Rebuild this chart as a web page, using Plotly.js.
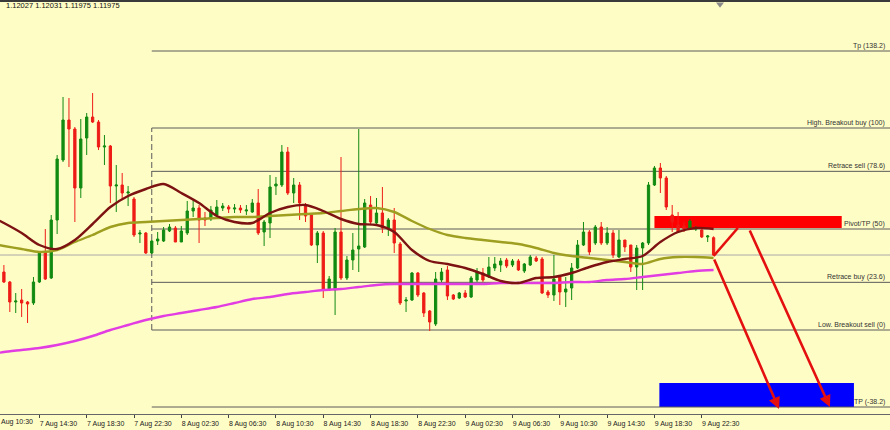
<!DOCTYPE html>
<html><head><meta charset="utf-8">
<script src="https://cdn.plot.ly/plotly-3.0.1.min.js"></script>
<style>html,body{margin:0;padding:0;background:#fffdc6;}#chart{width:890px;height:430px;}</style>
</head><body><div id="chart"></div>
<script>
// EURUSD M30, 7 Aug 11:30 -> 9 Aug 23:30 (2019)
const startTime = '2019-08-07T11:30:00Z';
const stepMinutes = 30;

const open = [1.11924,1.11894,1.11834,1.11840,1.11834,1.11831,1.11894,1.11984,1.11906,1.12080,
1.12260,1.12380,1.12353,1.12176,1.12326,1.12389,1.12374,1.12299,1.12302,1.12182,
1.12185,1.12161,1.12143,1.12038,1.12041,1.11981,1.12017,1.12017,1.12047,1.12056,
1.12014,1.12041,1.12107,1.12116,1.12086,1.12083,1.12095,1.12116,1.12119,1.12113,
1.12116,1.12107,1.12104,1.12131,1.12044,1.12071,1.12182,1.12185,1.12284,1.12161,
1.12185,1.12125,1.12095,1.12005,1.12041,1.11870,1.11870,1.12044,1.11906,1.11960,
1.11993,1.11999,1.12125,1.12071,1.12101,1.12056,1.12080,1.12008,1.11837,1.11840,
1.11921,1.11861,1.11807,1.11768,1.11900,1.11930,1.11855,1.11846,1.11861,1.11849,
1.11900,1.11921,1.11909,1.11936,1.11945,1.11960,1.11945,1.11957,1.11927,1.11945,
1.11966,1.11963,1.11864,1.11855,1.11909,1.11864,1.11876,1.11936,1.12005,1.12044,
1.12011,1.12059,1.12011,1.12041,1.11969,1.12020,1.12005,1.11939,1.11996,1.12011,
1.12185,1.12236,1.12206,1.12095,1.12065,1.12062,1.12056,1.12053,1.12050,1.12029,
1.12027];
const high = [1.11945,1.11897,1.11861,1.11873,1.11837,1.11909,1.11981,1.12053,1.12095,1.12275,
1.12449,1.12446,1.12359,1.12383,1.12401,1.12461,1.12380,1.12335,1.12305,1.12245,
1.12221,1.12182,1.12149,1.12050,1.12044,1.12020,1.12044,1.12059,1.12068,1.12062,
1.12062,1.12137,1.12140,1.12125,1.12104,1.12122,1.12140,1.12131,1.12125,1.12128,
1.12125,1.12125,1.12143,1.12173,1.12080,1.12215,1.12209,1.12305,1.12299,1.12206,
1.12194,1.12131,1.12101,1.12047,1.12047,1.11912,1.12056,1.12269,1.11972,1.12041,
1.12353,1.12143,1.12152,1.12146,1.12179,1.12086,1.12116,1.12014,1.11849,1.11924,
1.11924,1.11864,1.11810,1.11924,1.11936,1.11942,1.11858,1.11864,1.11870,1.11912,
1.11936,1.11936,1.11969,1.11969,1.11966,1.11966,1.11963,1.11963,1.11951,1.11975,
1.11972,1.11969,1.11870,1.11975,1.11912,1.11909,1.11951,1.12020,1.12074,1.12050,
1.12065,1.12074,1.12059,1.12050,1.12050,1.12020,1.12005,1.12005,1.12014,1.12194,
1.12242,1.12251,1.12212,1.12125,1.12104,1.12074,1.12083,1.12062,1.12053,1.12035,
1.12031];
const low = [1.11891,1.11804,1.11801,1.11789,1.11771,1.11825,1.11891,1.11900,1.11903,1.12038,
1.12254,1.12239,1.12074,1.12146,1.12275,1.12371,1.12290,1.12245,1.12131,1.12104,
1.12140,1.12122,1.12029,1.12011,1.11978,1.11978,1.12005,1.12014,1.12044,1.12014,
1.12014,1.12035,1.12089,1.12011,1.12062,1.12077,1.12089,1.12107,1.12101,1.12101,
1.12101,1.12095,1.12101,1.12035,1.12002,1.12026,1.12155,1.12179,1.12155,1.12131,
1.12080,1.12074,1.12002,1.11951,1.11846,1.11867,1.11795,1.11900,1.11900,1.11930,
1.11924,1.11996,1.12068,1.12068,1.12041,1.12032,1.11981,1.11825,1.11804,1.11837,
1.11849,1.11789,1.11747,1.11762,1.11894,1.11840,1.11840,1.11843,1.11846,1.11846,
1.11894,1.11894,1.11906,1.11927,1.11924,1.11936,1.11939,1.11927,1.11921,1.11942,
1.11954,1.11858,1.11846,1.11837,1.11825,1.11819,1.11840,1.11933,1.12002,1.11975,
1.12005,1.12005,1.12005,1.11966,1.11966,1.11984,1.11924,1.11870,1.11870,1.12005,
1.12182,1.12161,1.12110,1.12044,1.12041,1.12044,1.12050,1.12047,1.12026,1.12014,
1.11975];
const close = [1.11894,1.11834,1.11837,1.11831,1.11828,1.11894,1.11981,1.11903,1.12080,1.12263,
1.12380,1.12353,1.12176,1.12323,1.12389,1.12374,1.12299,1.12302,1.12182,1.12185,
1.12161,1.12164,1.12035,1.12041,1.11981,1.12017,1.12023,1.12050,1.12059,1.12014,
1.12047,1.12107,1.12116,1.12080,1.12080,1.12110,1.12119,1.12122,1.12113,1.12116,
1.12110,1.12110,1.12131,1.12041,1.12074,1.12179,1.12188,1.12284,1.12161,1.12185,
1.12131,1.12092,1.12005,1.12041,1.11870,1.11903,1.12044,1.11906,1.11960,1.11990,
1.12002,1.12131,1.12074,1.12101,1.12056,1.12080,1.12011,1.11831,1.11840,1.11921,
1.11855,1.11801,1.11774,1.11903,1.11924,1.11852,1.11843,1.11861,1.11849,1.11906,
1.11924,1.11900,1.11939,1.11948,1.11957,1.11942,1.11957,1.11930,1.11948,1.11969,
1.11957,1.11861,1.11855,1.11903,1.11864,1.11873,1.11936,1.12005,1.12044,1.11984,
1.12059,1.12011,1.12041,1.11975,1.12020,1.11999,1.11939,1.11996,1.12011,1.12185,
1.12236,1.12206,1.12119,1.12074,1.12044,1.12053,1.12077,1.12056,1.12029,1.12032,
1.11975];

// moving averages, read at these candle indices
const maIndex = [-1,0,3,6,9,12,15,18,21,24,27,30,33,36,39,42,45,48,51,54,57,60,63,66,69,72,75,78,81,84,87,90,93,96,99,102,105,108,111,114,117,120];
const maFast = [1.12080,1.12071,1.12041,1.12005,1.11993,1.12020,1.12068,1.12119,1.12152,1.12173,1.12188,1.12161,1.12131,1.12092,1.12074,1.12071,1.12101,1.12119,1.12125,1.12107,1.12083,1.12068,1.12065,1.12044,1.11990,1.11957,1.11948,1.11936,1.11918,1.11897,1.11891,1.11906,1.11909,1.11921,1.11939,1.11954,1.11963,1.11972,1.12014,1.12044,1.12056,1.12053];
const maMid = [1.12005,1.12002,1.11993,1.11984,1.11990,1.12014,1.12035,1.12059,1.12071,1.12074,1.12077,1.12080,1.12083,1.12086,1.12089,1.12089,1.12092,1.12095,1.12098,1.12101,1.12107,1.12113,1.12116,1.12104,1.12077,1.12053,1.12035,1.12026,1.12020,1.12014,1.12008,1.11996,1.11981,1.11972,1.11966,1.11960,1.11954,1.11948,1.11963,1.11969,1.11969,1.11966];
const maSlow = [1.11681,1.11684,1.11690,1.11696,1.11705,1.11717,1.11732,1.11750,1.11765,1.11780,1.11792,1.11801,1.11810,1.11819,1.11831,1.11843,1.11849,1.11858,1.11864,1.11870,1.11873,1.11879,1.11885,1.11888,1.11888,1.11888,1.11888,1.11888,1.11888,1.11891,1.11891,1.11891,1.11891,1.11894,1.11894,1.11900,1.11903,1.11909,1.11915,1.11921,1.11927,1.11930];

// Fibonacci levels
const fibNames = ['Tp (138.2)','High. Breakout buy (100)','Retrace sell (78.6)','Pivot/TP (50)','Retrace buy (23.6)','Low. Breakout sell (0)','TP (-38.2)'];
const fibPrices = [1.12587,1.12356,1.12226,1.12053,1.11893,1.11750,1.11519];
const fibStart = '2019-08-08 00:00';

// drawn objects
const sellZone = {t0:'2019-08-09 18:30', t1:'2019-08-10 10:20', p0:1.12056, p1:1.12092};
const targetZone = {t0:'2019-08-09 18:55', t1:'2019-08-10 11:22', p0:1.11519, p1:1.11591};
const pathUp = {t0:'2019-08-09 23:30', p0:1.11972, t1:'2019-08-10 01:33', p1:1.12056};
const arrowsDown = [
  {t0:'2019-08-09 23:30', p0:1.11966, t1:'2019-08-10 05:02', p1:1.11513},
  {t0:'2019-08-10 02:30', p0:1.12053, t1:'2019-08-10 09:20', p1:1.11519}
];

const tickTimes = ['2019-08-07 14:30','2019-08-07 18:30','2019-08-07 22:30','2019-08-08 02:30','2019-08-08 06:30','2019-08-08 10:30','2019-08-08 14:30','2019-08-08 18:30','2019-08-08 22:30','2019-08-09 02:30','2019-08-09 06:30','2019-08-09 10:30','2019-08-09 14:30','2019-08-09 18:30','2019-08-09 22:30'];
const tickLabels = ['7 Aug 14:30','7 Aug 18:30','7 Aug 22:30','8 Aug 02:30','8 Aug 06:30','8 Aug 10:30','8 Aug 14:30','8 Aug 18:30','8 Aug 22:30','9 Aug 02:30','9 Aug 06:30','9 Aug 10:30','9 Aug 14:30','9 Aug 18:30','9 Aug 22:30'];
const firstTickVisible = 'Aug 10:30';   // "7 Aug 10:30" tick, cut by the left edge
const headerText = '1.12027 1.12031 1.11975 1.11975';
const xRange = ['2019-08-07 11:10:12','2019-08-10 14:24:54'];

function timeAt(i){
  const d = new Date(Date.parse(startTime) + i*stepMinutes*60000);
  return d.toISOString().slice(0,16).replace('T',' ');
}
const times = open.map((_, i) => timeAt(i));
const maTimes = maIndex.map(timeAt);

const GREEN = '#118a11', RED = '#ee1c16';
const FONT = 'Liberation Sans, Arial, sans-serif';

const traces = [
  {type:'candlestick', x:times, open:open, high:high, low:low, close:close,
   increasing:{line:{color:GREEN,width:1}, fillcolor:GREEN},
   decreasing:{line:{color:RED,width:1}, fillcolor:RED},
   whiskerwidth:0, hoverinfo:'skip'},
  {type:'scatter', mode:'lines', x:maTimes, y:maSlow, line:{color:'#e23de2', width:2.4, shape:'spline', smoothing:0.8}, hoverinfo:'skip'},
  {type:'scatter', mode:'lines', x:maTimes, y:maMid, line:{color:'#9e9e20', width:2.4, shape:'spline', smoothing:0.8}, hoverinfo:'skip'},
  {type:'scatter', mode:'lines', x:maTimes, y:maFast, line:{color:'#7d1212', width:2.4, shape:'spline', smoothing:0.8}, hoverinfo:'skip'}
];

const shapes = [];
// bid line
shapes.push({type:'line', xref:'paper', yref:'y', x0:0, x1:1, y0:close[close.length-1], y1:close[close.length-1], line:{color:'#a8a8a8', width:1}, layer:'below'});
// zones
shapes.push({type:'rect', xref:'x', yref:'y', x0:sellZone.t0, x1:sellZone.t1, y0:sellZone.p0, y1:sellZone.p1, fillcolor:'#ff0000', line:{width:0}, layer:'below'});
shapes.push({type:'rect', xref:'x', yref:'y', x0:targetZone.t0, x1:targetZone.t1, y0:targetZone.p0, y1:targetZone.p1, fillcolor:'#0000ff', line:{width:0}, layer:'below'});
// fib lines
fibPrices.forEach(p => shapes.push({type:'line', xref:'x', yref:'y', x0:fibStart, x1:xRange[1], y0:p, y1:p, line:{color:'#5a5a5a', width:1}, layer:'below'}));
shapes.push({type:'line', xref:'x', yref:'y', x0:fibStart, x1:fibStart, y0:fibPrices[5], y1:fibPrices[1], line:{color:'#5a5a5a', width:1, dash:'6px,3px'}, layer:'below'});
// up path
shapes.push({type:'line', xref:'x', yref:'y', x0:pathUp.t0, y0:pathUp.p0, x1:pathUp.t1, y1:pathUp.p1, line:{color:'#e41010', width:2.6}, layer:'above'});
// top frame bar
shapes.push({type:'rect', xref:'paper', yref:'paper', x0:0, x1:1, y0:1, y1:1.006, fillcolor:'#3a3a3a', line:{width:0}});
// chart shift marker
shapes.push({type:'path', xref:'paper', yref:'paper', path:'M 0.8045,0.999 L 0.8135,0.999 L 0.809,0.986 Z', fillcolor:'#8a8a8a', line:{width:0}});

const annotations = [];
arrowsDown.forEach(a => annotations.push({x:a.t1, y:a.p1, ax:a.t0, ay:a.p0, xref:'x', yref:'y', axref:'x', ayref:'y', text:'', showarrow:true, arrowhead:2, arrowsize:0.9, arrowwidth:2.6, arrowcolor:'#e41010', standoff:0}));
fibNames.forEach((n, k) => annotations.push({xref:'paper', yref:'y', x:887/890, y:fibPrices[k], xanchor:'right', yanchor:'middle', yshift:5, text:n, showarrow:false, font:{family:FONT, size:7, color:'#333'}}));
annotations.push({xref:'paper', yref:'paper', x:4/890, y:(414-6)/412, xanchor:'left', yanchor:'middle', text:headerText, showarrow:false, font:{family:FONT, size:7.5, color:'#111'}});
annotations.push({xref:'paper', yref:'paper', x:0, y:(414-422)/412, xanchor:'left', yanchor:'middle', text:firstTickVisible, showarrow:false, font:{family:FONT, size:7, color:'#222'}, borderpad:0});

const layout = {
  width:890, height:430,
  margin:{l:0, r:0, t:2, b:16, pad:0},
  paper_bgcolor:'#fffdc6', plot_bgcolor:'#fffdc6',
  showlegend:false, boxgap:0.45,
  xaxis:{type:'date', range:xRange, tickvals:tickTimes, ticktext:tickLabels, ticks:'outside', ticklen:3, tickcolor:'#444',
         tickfont:{family:FONT, size:7, color:'#222'}, ticklabelshift:19, showline:true, linecolor:'#666', linewidth:1,
         showgrid:false, zeroline:false, rangeslider:{visible:false}, fixedrange:true},
  yaxis:{range:[1.11498, 1.12734], visible:false, showgrid:false, zeroline:false, fixedrange:true},
  shapes:shapes, annotations:annotations
};

Plotly.newPlot('chart', traces, layout, {displayModeBar:false, staticPlot:true});
</script></body></html>
